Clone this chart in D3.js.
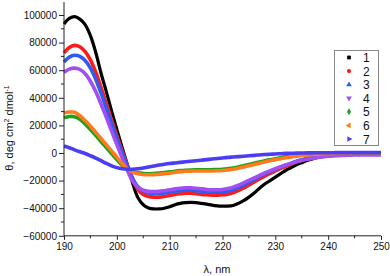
<!DOCTYPE html>
<html><head><meta charset="utf-8">
<script src="https://cdn.jsdelivr.net/npm/d3@7"></script>
<style>body{margin:0;background:#fff}svg{display:block;font-family:"Liberation Sans",Arial,sans-serif}</style>
</head><body><svg id="c" width="390" height="276"></svg>
<script>
const wavelengths = d3.range(190, 251, 1);
const s1 = [93500,97500,98800,97000,93000,85000,73000,58000,44500,30500,17000,4000,-8500,-22000,-32500,-37500,-39800,-40500,-40500,-40000,-39000,-37500,-36500,-36000,-35800,-36000,-36500,-37000,-37800,-38300,-38500,-38500,-38000,-36500,-34500,-32000,-29000,-25500,-22500,-20000,-17500,-15000,-12500,-10500,-8500,-7000,-5500,-4300,-3300,-2500,-1800,-1300,-900,-600,-400,-300,-200,-150,-100,-100,-100];
const s2 = [72500,76500,78000,77000,73500,67500,58500,47500,36000,24000,12500,1500,-9000,-19000,-26500,-30000,-31500,-32000,-32000,-31500,-30800,-30000,-29500,-29200,-29200,-29500,-30000,-30300,-30500,-30500,-30300,-29800,-28800,-27200,-25300,-23200,-21000,-18800,-16800,-14800,-13000,-11200,-9600,-8000,-6600,-5300,-4200,-3300,-2500,-1900,-1400,-1000,-700,-500,-400,-300,-250,-200,-200,-200,-200];
const s3 = [66000,69500,70800,70000,67000,61500,53500,43500,32500,21500,10500,0,-9500,-18500,-24500,-27500,-29000,-29500,-29500,-29000,-28500,-27800,-27300,-27000,-27000,-27300,-27800,-28200,-28400,-28400,-28200,-27600,-26600,-25000,-23200,-21200,-19200,-17200,-15300,-13500,-11800,-10200,-8700,-7300,-6000,-4900,-3900,-3000,-2300,-1700,-1200,-900,-600,-500,-400,-300,-300,-300,-300,-300,-300];
const s4 = [58500,60800,61500,60500,57500,52000,44500,35500,26000,16000,6000,-3500,-12500,-20500,-25000,-27000,-27800,-28000,-27800,-27300,-26700,-26000,-25500,-25200,-25200,-25500,-26000,-26400,-26600,-26600,-26400,-25800,-24800,-23300,-21600,-19800,-18000,-16200,-14500,-12900,-11400,-10000,-8700,-7500,-6400,-5400,-4600,-3900,-3300,-2800,-2400,-2100,-1900,-1700,-1600,-1500,-1500,-1400,-1400,-1400,-1400];
const s5 = [25500,26500,26300,24500,21000,17000,12800,8300,4000,-400,-4800,-8800,-11800,-13500,-14400,-14800,-15000,-14900,-14600,-14200,-13700,-13200,-12800,-12500,-12300,-12200,-12200,-12200,-12100,-12000,-11800,-11400,-10900,-10100,-9200,-8300,-7400,-6500,-5700,-4900,-4100,-3400,-2800,-2200,-1700,-1300,-1000,-700,-500,-300,-200,-100,-100,-100,-100,-50,0,0,0,0,0];
const s6 = [29000,29700,29500,27000,23500,19500,15000,10500,6000,1500,-3000,-7800,-11500,-13800,-15000,-15600,-15800,-15700,-15400,-15000,-14600,-14000,-13500,-13200,-13100,-13000,-13000,-13000,-13000,-12900,-12700,-12300,-11800,-11000,-10100,-9200,-8300,-7400,-6500,-5600,-4800,-4100,-3400,-2800,-2300,-1800,-1400,-1100,-800,-600,-400,-300,-200,-100,-100,-50,0,0,0,0,0];
const s7 = [5000,3800,2300,900,-400,-2000,-3700,-5600,-7600,-9300,-10600,-11400,-11800,-11800,-11400,-10800,-10100,-9400,-8700,-8100,-7600,-7200,-6800,-6400,-6000,-5600,-5200,-4800,-4400,-4000,-3600,-3200,-2900,-2600,-2300,-2000,-1700,-1400,-1100,-900,-700,-500,-300,-200,-100,0,100,100,200,200,200,200,300,300,300,300,300,300,300,300,300];
const seriesNames = ["1","2","3","4","5","6","7"];
const seriesValues = [s1,s2,s3,s4,s5,s6,s7];
const colors = ["#000000","#ff1a1a","#2f5cf0","#a24ef2","#1aa31a","#ff7a1a","#4b3cf6"];
const symbols = [d3.symbolSquare,d3.symbolCircle,d3.symbolTriangle,"down",d3.symbolDiamond,"left","right"];
const xTicks = [190,200,210,220,230,240,250];
const yTicks = [-60000,-40000,-20000,0,20000,40000,60000,80000,100000];

const svg = d3.select("#c");
const x = d3.scaleLinear().domain([190,250]).range([64,381]);
const y = d3.scaleLinear().domain([-60000,110000]).range([235.8,1.2]);

// series
const line = d3.line().x((d,i)=>x(wavelengths[i])).y(d=>y(d)).curve(d3.curveCatmullRom);
seriesValues.forEach((vals,k)=>{
  svg.append("path").attr("d",line(vals)).attr("fill","none")
    .attr("stroke",colors[k]).attr("stroke-width",k===0?3.2:3.6)
    .attr("stroke-linejoin","round");
});

// axes
const yAxis = d3.axisLeft(y).tickValues(yTicks).tickFormat(d3.format("d")).tickSize(5).tickPadding(2);
const gy = svg.append("g").attr("transform","translate(64,0)").call(yAxis);
gy.select(".domain").attr("d","M0,2V235.8").attr("stroke","#222");
const yMinor = d3.range(-50000,110000,20000);
gy.selectAll(".minor").data(yMinor).enter().append("line").attr("x1",0).attr("x2",-3)
  .attr("y1",d=>y(d)).attr("y2",d=>y(d)).attr("stroke","#222");

const xAxis = d3.axisBottom(x).tickValues(xTicks).tickFormat(d3.format("d")).tickSize(4).tickPadding(3);
const gx = svg.append("g").attr("transform","translate(0,235.8)").call(xAxis);
gx.select(".domain").attr("d","M64,0H381").attr("stroke","#222");
gx.selectAll(".minor").data(d3.range(195,250,10)).enter().append("line")
  .attr("x1",d=>x(d)).attr("x2",d=>x(d)).attr("y1",0).attr("y2",2.5).attr("stroke","#222");
svg.selectAll(".tick text").attr("font-size",10).attr("fill","#111").attr("font-family","'Liberation Sans',Arial,sans-serif");
svg.selectAll(".tick line").attr("stroke","#222");

// axis titles
svg.append("text").attr("transform","translate(13,128) rotate(-90)").attr("text-anchor","middle")
  .attr("font-size",11).attr("fill","#111")
  .html('θ, deg cm<tspan dy="-4" font-size="7">2</tspan><tspan dy="4"> dmol</tspan><tspan dy="-4" font-size="7">-1</tspan>');
svg.append("text").attr("x",217).attr("y",273).attr("text-anchor","middle").attr("font-size",11).attr("fill","#111").text("λ, nm");

// legend
const lg = svg.append("g");
lg.append("rect").attr("x",334.5).attr("y",50.5).attr("width",44).attr("height",95).attr("fill","#fff").attr("stroke","#888");
const ly = d3.scaleLinear().domain([0,6]).range([57.5,139]);
seriesNames.forEach((n,k)=>{
  const s = symbols[k];
  let p, rot = 0;
  if (s==="down"){p=d3.symbol(d3.symbolTriangle,14)(); rot=180;}
  else if (s==="left"){p=d3.symbol(d3.symbolTriangle,14)(); rot=-90;}
  else if (s==="right"){p=d3.symbol(d3.symbolTriangle,14)(); rot=90;}
  else p=d3.symbol(s,14)();
  lg.append("path").attr("d",p).attr("fill",colors[k])
    .attr("transform",`translate(349,${ly(k)}) rotate(${rot})`);
  lg.append("text").attr("x",363).attr("y",ly(k)+4.5).attr("font-size",12).attr("fill","#111").text(n);
});
</script></body></html>
